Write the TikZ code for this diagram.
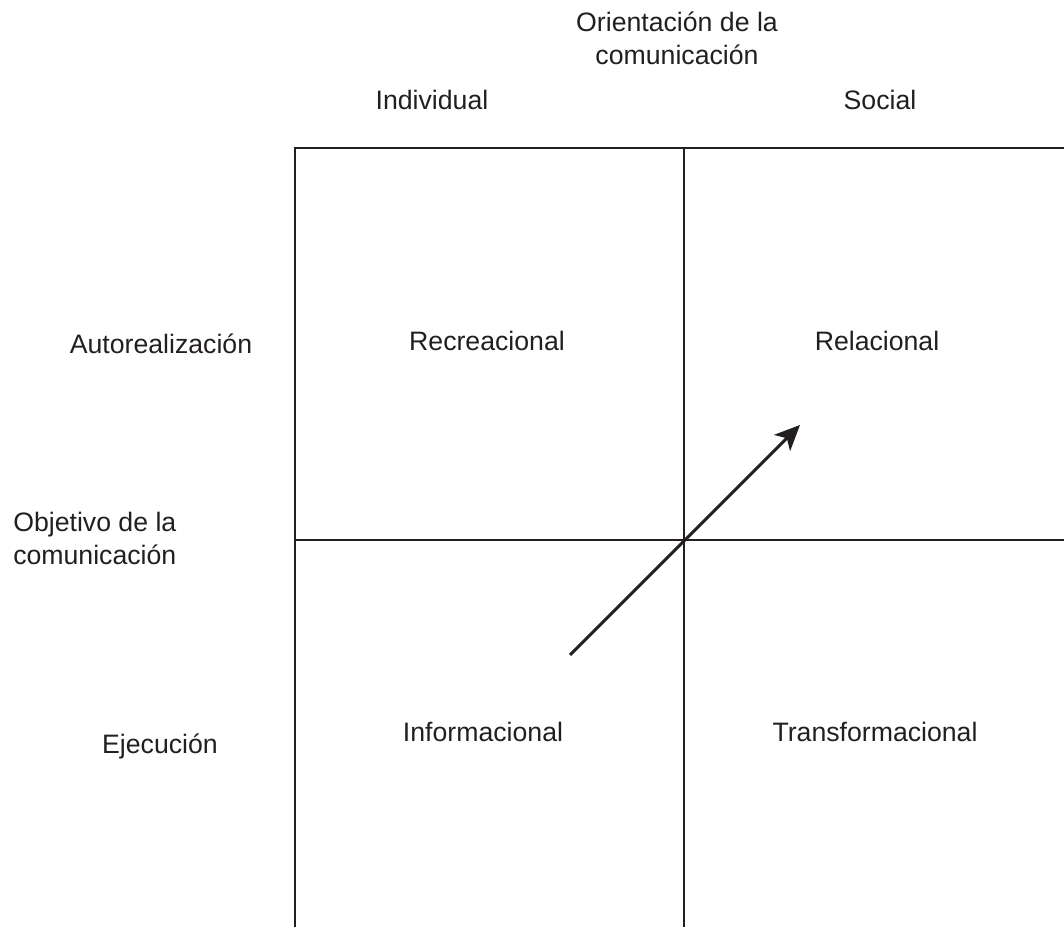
\documentclass[tikz,border=0pt]{standalone}
\usepackage{fontspec}
\setmainfont{Liberation Sans}
\usepackage{xcolor}
\usetikzlibrary{arrows.meta}
\definecolor{inkgray}{RGB}{35,31,32}

\tikzset{
    label/.style={text=inkgray, font=\fontsize{20}{24.75}\selectfont, inner sep=0pt},
    gridline/.style={draw=inkgray, line width=2.2pt}
}

\begin{document}
\begin{tikzpicture}[x=0.75pt, y=-0.75pt]
    \useasboundingbox (0,0) rectangle (1064,927);

    % Quadrant grid
    \coordinate (topleft) at (295,148);
    \coordinate (topright) at (1064,148);
    \coordinate (midleft) at (295,540);
    \coordinate (midright) at (1064,540);
    \coordinate (bottomleft) at (295,927);
    \coordinate (topmid) at (684,148);
    \coordinate (bottommid) at (684,927);
    \draw[gridline] (bottomleft) -- (topleft) -- (topright);
    \draw[gridline] (midleft) -- (midright);
    \draw[gridline] (topmid) -- (bottommid);

    % Column headings
    \node[label, align=center] (orient) at (677,38) {Orientación de la\\comunicación};
    \node[label] (indiv) at (432,100) {Individual};
    \node[label] (social) at (880,100) {Social};

    % Row headings
    \node[label] (autorr) at (161,344) {Autorealización};
    \node[label, align=left, anchor=west] (objet) at (13,538) {Objetivo de la\\comunicación};
    \node[label] (ejec) at (160,746) {Ejecución};

    % Quadrant labels
    \node[label] (recre) at (487,341) {Recreacional};
    \node[label] (relac) at (877,341) {Relacional};
    \node[label] (inform) at (483,732) {Informacional};
    \node[label] (transf) at (875,732) {Transformacional};

    % Shift arrow
    \coordinate (shiftstart) at (570,655);
    \coordinate (shiftend) at (800,425);
    \draw[draw=inkgray, line width=2.2pt, -{Stealth[length=19pt, width=17pt, inset=5pt]}] (shiftstart) -- (shiftend);
\end{tikzpicture}
\end{document}
